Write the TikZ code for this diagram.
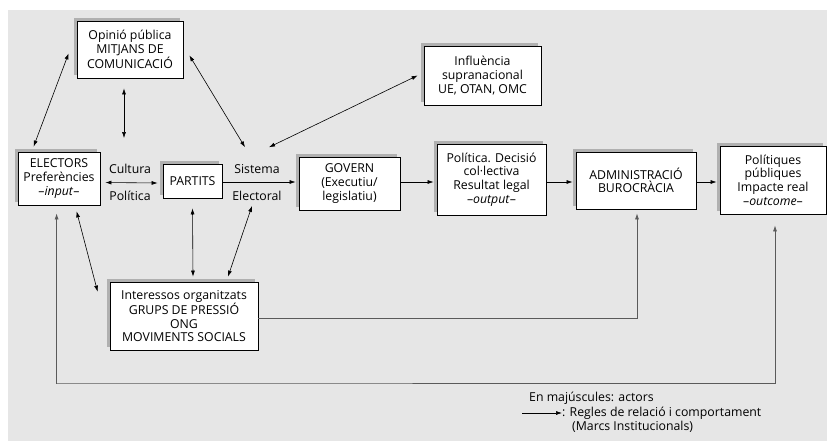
\documentclass[tikz,border=0pt]{standalone}
\usepackage{fontspec}
\setmainfont{Open Sans}
\usetikzlibrary{arrows.meta,calc,shadows}
\definecolor{fons}{HTML}{E6E6E6}
\definecolor{ombra}{HTML}{B0B0B0}
\definecolor{linia}{HTML}{5A5A5A}
\tikzset{
  actor/.style={draw,fill=white,line width=0.8pt,align=center,inner sep=0pt,
    drop shadow={shadow xshift=-3pt,shadow yshift=3pt,fill=ombra,opacity=1}},
  etiqueta/.style={inner sep=1pt},
  regla/.style={{Latex[length=6pt,width=4pt]}-{Latex[length=6pt,width=4pt]},line width=0.6pt},
  flux/.style={-{Latex[length=6pt,width=4pt]},line width=0.6pt,shorten >=3pt},
  marc/.style={draw=linia,line width=0.7pt}
}
\begin{document}
\begin{tikzpicture}[x=1pt,y=-1pt,font=\fontsize{12.3}{13.6}\selectfont]
\useasboundingbox (0,0) rectangle (827,441);
\fill[fons] (8,10) rectangle (827,441);
\node[actor,minimum width=106pt,minimum height=57pt] (opinio) at (130,49.5) {Opinió pública\\MITJANS DE\\COMUNICACIÓ};
\node[actor,minimum width=117pt,minimum height=59pt] (influencia) at (482.5,75.5) {Influència\\supranacional\\UE, OTAN, OMC};
\node[actor,minimum width=82pt,minimum height=53pt] (electors) at (59,178.5) {ELECTORS\\Preferències\\–\textit{input}–};
\node[actor,minimum width=59pt,minimum height=34pt] (partits) at (192.5,181) {PARTITS};
\node[actor,minimum width=101pt,minimum height=53pt] (govern) at (349.5,183.5) {GOVERN\\(Executiu/\\legislatiu)};
\node[actor,minimum width=109pt,minimum height=71pt] (decisio) at (491.5,179.5) {Política. Decisió\\col·lectiva\\Resultat legal\\–\textit{output}–};
\node[actor,minimum width=120pt,minimum height=57pt] (admin) at (636,180.5) {ADMINISTRACIÓ\\BUROCRÀCIA};
\node[actor,minimum width=106pt,minimum height=68pt] (politiques) at (773,180) {Polítiques\\públiques\\Impacte real\\–\textit{outcome}–};
\node[actor,minimum width=148pt,minimum height=68pt] (interessos) at (184,316) {Interessos organitzats\\GRUPS DE PRESSIÓ\\ONG\\MOVIMENTS SOCIALS};
\node[etiqueta] (cultura) at (130,169) {Cultura};
\node[etiqueta] (politica) at (130,196) {Política};
\node[etiqueta] (sistema) at (257,169) {Sistema};
\node[etiqueta] (electoral) at (257,196) {Electoral};
% relacions entre actors
\draw[regla] (electors.east) ++(5,4) -- ($(partits.west)+(-5,2)$);
\draw[regla] ($(opinio.south west)+(-8,-25)$) -- ($(electors.north west)+(16,-5)$);
\draw[regla] ($(opinio.south)+(-6,10)$) -- ($(cultura.north)+(-6,-25)$);
\draw[regla] ($(opinio.south east)+(6,-23)$) -- ($(sistema.north)+(-12,-16)$);
\draw[regla] ($(influencia.west)+(-6,0)$) -- ($(sistema.north)+(12,-16)$);
\draw[regla] ($(electors.south west)+(59,6)$) -- ($(interessos.north west)+(-12,10)$);
\draw[regla] ($(partits.south)+(0,10)$) -- ($(interessos.north)+(9,-5)$);
\draw[regla] ($(electoral.south)+(-5,4)$) -- ($(interessos.north)+(44,-5)$);
% cadena principal
\draw[flux] ($(partits.east)+(0,1)$) -- ($(partits.east -| govern.west)+(0,1)$);
\draw[flux] ($(partits.east -| govern.east)+(0,1)$) -- ($(partits.east -| decisio.west)+(0,1)$);
\draw[flux] ($(partits.east -| decisio.east)+(0,1)$) -- ($(partits.east -| admin.west)+(0,1)$);
\draw[flux] ($(partits.east -| admin.east)+(0,1)$) -- ($(partits.east -| politiques.west)+(0,1)$);
% marcs exteriors
\draw[marc,{Latex[length=6pt,width=4pt]}-{Latex[length=6pt,width=4pt]}] ($(electors.south west)+(39,8)$) |- (57,383) -| ($(politiques.south)+(2,11)$);
\draw[marc,-{Latex[length=6pt,width=4pt]}] (interessos.east) ++(0,2) -| ($(admin.south)+(1,4)$);
% llegenda
\node[anchor=west,inner sep=0pt] (actors) at (529,398) {En majúscules: actors};
\coordinate (lfrom) at (522,413);
\node[anchor=west,inner sep=0pt] (regles) at (562,413) {: Regles de relació i comportament};
\node[anchor=west,inner sep=0pt] (marcs) at (572,427) {(Marcs Institucionals)};
\draw[flux,shorten >=0pt] (lfrom) -- (regles.west);
\end{tikzpicture}
\end{document}
